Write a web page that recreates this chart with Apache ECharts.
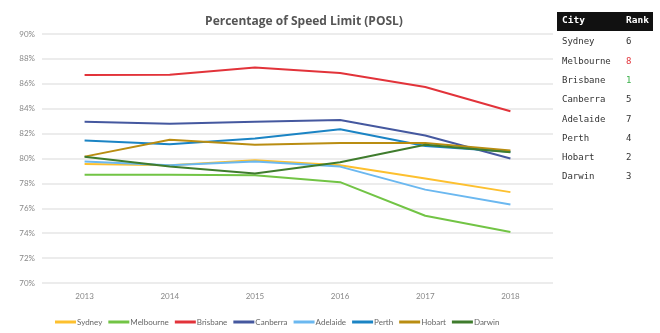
<!DOCTYPE html>
<html><head><meta charset="utf-8">
<script src="https://cdn.jsdelivr.net/npm/echarts@6/dist/echarts.min.js"></script>
<style>html,body{margin:0;padding:0;background:#fff}#c{width:660px;height:333px}</style>
</head><body><div id="c"></div>
<script>
const years = ['2013','2014','2015','2016','2017','2018'];
const cities = ['Sydney','Melbourne','Brisbane','Canberra','Adelaide','Perth','Hobart','Darwin'];
const colors = ['#fdc02f','#72c445','#e2333a','#45589f','#6bb8f0','#1b84c4','#b98d12','#3f7c2d'];
const sydney    = [79.55, 79.45, 79.85, 79.45, 78.4, 77.3];
const melbourne = [78.7, 78.7, 78.65, 78.1, 75.4, 74.1];
const brisbane  = [86.7, 86.73, 87.3, 86.87, 85.74, 83.8];
const canberra  = [82.95, 82.8, 82.95, 83.1, 81.85, 80.0];
const adelaide  = [79.75, 79.45, 79.75, 79.35, 77.5, 76.3];
const perth     = [81.45, 81.15, 81.6, 82.35, 81.0, 80.55];
const hobart    = [80.15, 81.5, 81.1, 81.25, 81.25, 80.65];
const darwin    = [80.15, 79.35, 78.8, 79.7, 81.1, 80.5];
const seriesData = [sydney, melbourne, brisbane, canberra, adelaide, perth, hobart, darwin];
const tableCities = ['Sydney','Melbourne','Brisbane','Canberra','Adelaide','Perth','Hobart','Darwin'];
const tableRanks  = ['6','8','1','5','7','4','2','3'];
const rankColors  = {'8':'#e2333a','1':'#3cb04a'};

const chart = echarts.init(document.getElementById('c'));
const graphic = [
  {type:'rect', left:557, top:12, shape:{width:96,height:19}, style:{fill:'#111'}},
  {type:'text', left:562, top:16, style:{text:'City', fill:'#fff', font:'bold 9.5px "DejaVu Sans Mono"'}},
  {type:'text', left:626, top:16, style:{text:'Rank', fill:'#fff', font:'bold 9.5px "DejaVu Sans Mono"'}}
];
tableCities.forEach((c,i)=>{
  const y = 37.5 + i*19.3;
  graphic.push({type:'text', left:562, top:y, style:{text:c, fill:'#333', font:'9px "DejaVu Sans Mono"'}});
  graphic.push({type:'text', left:626, top:y, style:{text:tableRanks[i], fill:rankColors[tableRanks[i]]||'#333', font:'9px "DejaVu Sans Mono"'}});
});

chart.setOption({
  animation:false,
  color: colors,
  title:{text:'Percentage of Speed Limit (POSL)', left:299, textAlign:'center', top:11,
    textStyle:{fontSize:12, fontWeight:'bold', color:'#555', fontFamily:'Open Sans'}},
  grid:{left:42, right:107, top:34, bottom:50},
  legend:{bottom:2, left:50, itemWidth:21, itemHeight:3, itemGap:6, icon:'rect',
    textStyle:{fontSize:8, color:'#666', fontFamily:'Lato', padding:[0,0,0,-4]}, data:cities},
  xAxis:{type:'category', data:years, boundaryGap:true,
    axisLine:{show:false}, axisTick:{show:false},
    axisLabel:{fontSize:8, color:'#888', margin:9, fontFamily:'Lato'}},
  yAxis:{type:'value', min:70, max:90, interval:2,
    axisLabel:{fontSize:8, color:'#888', margin:7, fontFamily:'Lato', formatter:v=>v+'%'},
    splitLine:{lineStyle:{color:'#e6e6e6', width:1.5}}},
  graphic: graphic,
  series: cities.map((c,i)=>({name:c, type:'line', data:seriesData[i], symbol:'none',
    lineStyle:{width:2}}))
});
</script></body></html>
